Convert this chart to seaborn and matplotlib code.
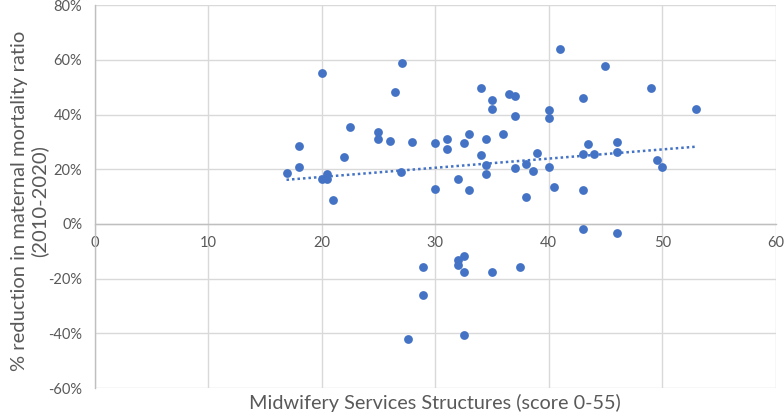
import seaborn as sns
import matplotlib.pyplot as plt
import matplotlib.ticker as mticker

# Midwifery score vs % reduction in MMR (2010-2020)
score = [20.0, 27.05, 26.5, 22.5, 25.0, 25.0, 26.0, 28.0, 30.0, 18.0,
         22.0, 18.0, 16.9, 27.0, 20.0, 20.5, 20.5, 30.0, 21.0, 28.9,
         28.9, 27.6, 41.0, 45.0, 49.0, 53.0, 34.0, 35.0, 35.0, 36.5,
         37.0, 37.0, 40.0, 40.0, 43.0, 31.0, 31.0, 32.5, 33.0, 34.5,
         36.0, 34.0, 34.5, 34.5, 37.0, 38.0, 38.6, 39.0, 40.0, 43.5,
         43.0, 44.0, 46.0, 46.0, 49.5, 50.0, 32.0, 33.0, 38.0, 40.5,
         43.0, 43.0, 46.0, 32.5, 32.0, 32.0, 32.5, 35.0, 37.5, 32.5]
reduction = [55.3, 59.0, 48.3, 35.6, 33.7, 31.2, 30.3, 30.1, 29.5, 28.4,
             24.6, 20.7, 18.5, 18.9, 16.5, 18.3, 16.5, 12.8, 8.7, -15.8,
             -26.0, -41.9, 64.1, 57.9, 49.6, 41.9, 49.8, 45.4, 42.2, 47.7,
             46.8, 39.6, 41.7, 38.8, 46.1, 31.0, 27.3, 29.5, 32.8, 31.2,
             32.8, 25.1, 21.5, 18.2, 20.5, 21.9, 19.4, 26.0, 21.0, 29.3,
             25.5, 25.7, 30.1, 26.2, 23.4, 20.7, 16.6, 12.6, 10.0, 13.5,
             12.4, -1.9, -3.2, -11.7, -13.3, -15.0, -17.4, -17.7, -15.8, -40.5]

x_ticks = [0, 10, 20, 30, 40, 50, 60]
y_ticks = [-60, -40, -20, 0, 20, 40, 60, 80]

blue = '#4472C4'
grey_text = '#595959'

sns.set_theme(style='whitegrid')
plt.rcParams['font.family'] = ['Lato', 'DejaVu Sans']

fig, ax = plt.subplots(figsize=(7.84, 4.17), dpi=100)
fig.subplots_adjust(left=0.1208, right=0.9894, top=0.9875, bottom=0.0695)

sns.scatterplot(x=score, y=reduction, color=blue, s=40, linewidth=0, ax=ax, zorder=3)
sns.regplot(x=score, y=reduction, scatter=False, ci=None, color=blue, ax=ax,
            line_kws=dict(linestyle=(0, (1, 1.2)), linewidth=1.8))

ax.set_xlim(0, 60)
ax.set_ylim(-60, 80)
ax.set_xticks(x_ticks)
ax.set_yticks(y_ticks)
ax.yaxis.set_major_formatter(mticker.FuncFormatter(lambda v, _: f'{v:.0f}%'))

ax.grid(True, color='#D9D9D9', linewidth=1)
for side in ['top', 'right']:
    ax.spines[side].set_visible(False)
ax.spines['bottom'].set_position(('data', 0))
ax.spines['bottom'].set_color('#BFBFBF')
ax.spines['left'].set_color('#BFBFBF')
ax.spines['bottom'].set_linewidth(1)
ax.spines['left'].set_linewidth(1)
ax.tick_params(axis='both', length=0, labelsize=10.5, colors=grey_text)
ax.tick_params(axis='x', pad=9)
ax.tick_params(axis='y', pad=9)

ax.set_xlabel('Midwifery Services Structures (score 0-55)', fontsize=14.3, color=grey_text)
ax.set_ylabel('% reduction in maternal mortality ratio\n(2010-2020)', fontsize=14.5,
              color=grey_text, linespacing=1.2)
ax.xaxis.set_label_coords(0.5, -0.016)
ax.yaxis.set_label_coords(-0.068, 0.4885)

fig.savefig('out.png', dpi=100)
